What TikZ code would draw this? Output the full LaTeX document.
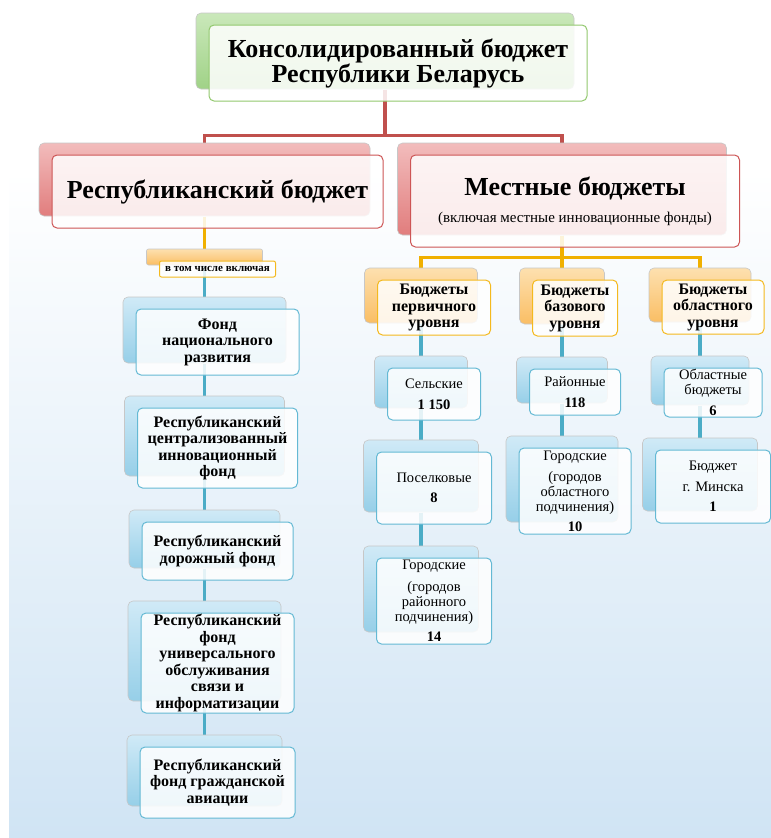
\documentclass[tikz,border=0pt]{standalone}
\usepackage{fontspec}
\setmainfont{Liberation Serif}

\definecolor{bgblauw}{RGB}{208,228,244}
\definecolor{roodlijn}{RGB}{192,80,77}
\definecolor{oranjelijn}{RGB}{240,176,0}
\definecolor{blauwlijn}{RGB}{75,172,198}
\definecolor{groenrand}{RGB}{146,200,110}
\definecolor{roodrand}{RGB}{205,85,85}
\definecolor{oranjerand}{RGB}{244,185,30}
\definecolor{blauwrand}{RGB}{100,185,212}
\definecolor{groenlicht}{RGB}{202,232,186}
\definecolor{groendonker}{RGB}{160,210,135}
\definecolor{roodlicht}{RGB}{242,188,188}
\definecolor{rooddonker}{RGB}{225,125,125}
\definecolor{oranjelicht}{RGB}{253,224,175}
\definecolor{oranjedonker}{RGB}{250,190,100}
\definecolor{blauwlicht}{RGB}{208,234,247}
\definecolor{blauwdonker}{RGB}{150,207,232}

\pgfdeclarelayer{bglayer}
\pgfdeclarelayer{lijnlayer}
\pgfsetlayers{bglayer,lijnlayer,main}

\tikzset{
  voorvlak/.style={draw=#1, line width=1pt, rounded corners=5pt, fill=white,
    fill opacity=0.85, text opacity=1, align=center, inner sep=0pt},
  achtervlak/.style 2 args={preaction={fill opacity=1, draw=black!22, line width=0.6pt,
    top color=#1, bottom color=#2, transform canvas={shift={(-13pt,12pt)}}}},
  achter/.style={shift={(-13pt,12pt)}},
  lijn/.style={draw=#1, line width=3.5pt},
  kop/.style={font=\fontsize{26}{25}\selectfont\bfseries},
  fonds/.style={font=\fontsize{16}{16.5}\selectfont\bfseries},
  niveau/.style={font=\fontsize{14.5}{15}\selectfont},
}

\begin{document}
\begin{tikzpicture}[x=1pt,y=-1pt]
\useasboundingbox (0,0) rectangle (771,838);

% Achtergrond
\begin{pgfonlayer}{bglayer}
\fill[white] (0,0) rectangle (771,838);
\shade[top color=white, bottom color=bgblauw] (9,170) rectangle (771,838);
\end{pgfonlayer}

% Bovenste blok
\node[voorvlak=groenrand, achtervlak={groenlicht}{groendonker}, kop,
  minimum width=378pt, minimum height=76pt] (titel) at (398,63)
  {Консолидированный бюджет\\Республики Беларусь};

% Republikeinse en lokale begroting
\node[voorvlak=roodrand, achtervlak={roodlicht}{rooddonker}, kop,
  minimum width=331pt, minimum height=73pt] (rb) at (217.5,191.5)
  {Республиканский бюджет};
\node[voorvlak=roodrand, achtervlak={roodlicht}{rooddonker}, kop,
  minimum width=329pt, minimum height=92pt] (mb) at (575,201)
  {Местные бюджеты\\[2pt]{\fontsize{15}{15}\selectfont\mdseries (включая местные инновационные фонды)}};

% Fondsen links
\node[voorvlak=oranjerand, achtervlak={oranjelicht}{oranjedonker}, rounded corners=2pt,
  font=\fontsize{11}{11}\selectfont\bfseries,
  minimum width=116pt, minimum height=16pt] (incl) at (217.5,269) {в том числе включая};
\node[voorvlak=blauwrand, achtervlak={blauwlicht}{blauwdonker}, fonds,
  minimum width=163pt, minimum height=66pt] (f1) at (217.5,342)
  {Фонд\\национального\\развития};
\node[voorvlak=blauwrand, achtervlak={blauwlicht}{blauwdonker}, fonds,
  minimum width=160pt, minimum height=80pt] (f2) at (217.5,448)
  {Республиканский\\централизованный\\инновационный\\фонд};
\node[voorvlak=blauwrand, achtervlak={blauwlicht}{blauwdonker}, fonds,
  minimum width=151pt, minimum height=58pt] (f3) at (217.5,551)
  {Республиканский\\дорожный фонд};
\node[voorvlak=blauwrand, achtervlak={blauwlicht}{blauwdonker}, fonds,
  minimum width=153pt, minimum height=100pt] (f4) at (217.5,663)
  {Республиканский\\фонд\\универсального\\обслуживания\\связи и\\информатизации};
\node[voorvlak=blauwrand, achtervlak={blauwlicht}{blauwdonker}, fonds,
  minimum width=155pt, minimum height=71pt] (f5) at (217.5,782.5)
  {Республиканский\\фонд гражданской\\авиации};

% Niveaus van lokale begrotingen
\node[voorvlak=oranjerand, achtervlak={oranjelicht}{oranjedonker}, fonds,
  minimum width=113pt, minimum height=55pt] (o1) at (434,307.5)
  {Бюджеты\\первичного\\уровня};
\node[voorvlak=oranjerand, achtervlak={oranjelicht}{oranjedonker}, fonds,
  minimum width=85pt, minimum height=56pt] (o2) at (575,308)
  {Бюджеты\\базового\\уровня};
\node[voorvlak=oranjerand, achtervlak={oranjelicht}{oranjedonker}, fonds,
  minimum width=102pt, minimum height=54pt] (o3) at (713,307)
  {Бюджеты\\областного\\уровня};

% Aantallen per niveau
\node[voorvlak=blauwrand, achtervlak={blauwlicht}{blauwdonker}, niveau,
  minimum width=93pt, minimum height=52pt] (c1a) at (434,394)
  {Сельские\\[6pt]\textbf{1 150}};
\node[voorvlak=blauwrand, achtervlak={blauwlicht}{blauwdonker}, niveau,
  minimum width=115pt, minimum height=72pt] (c1b) at (434,488)
  {Поселковые\\[5pt]\textbf{8}};
\node[voorvlak=blauwrand, achtervlak={blauwlicht}{blauwdonker}, niveau,
  minimum width=115pt, minimum height=86pt] (c1c) at (434,601)
  {Городские\\[7pt](городов\\районного\\подчинения)\\[5pt]\textbf{14}};
\node[voorvlak=blauwrand, achtervlak={blauwlicht}{blauwdonker}, niveau,
  minimum width=91pt, minimum height=46pt] (c2a) at (575,392)
  {Районные\\[6pt]\textbf{118}};
\node[voorvlak=blauwrand, achtervlak={blauwlicht}{blauwdonker}, niveau,
  minimum width=112pt, minimum height=86pt] (c2b) at (575,491)
  {Городские\\[6pt](городов\\областного\\подчинения)\\[5pt]\textbf{10}};
\node[voorvlak=blauwrand, achtervlak={blauwlicht}{blauwdonker}, niveau,
  minimum width=98pt, minimum height=49pt] (c3a) at (713,392.5)
  {Областные\\бюджеты\\[6pt]\textbf{6}};
\node[voorvlak=blauwrand, achtervlak={blauwlicht}{blauwdonker}, niveau,
  minimum width=115pt, minimum height=73pt] (c3b) at (713,486.5)
  {Бюджет\\[6pt]г. Минска\\[5pt]\textbf{1}};

% Verbindingslijnen
\begin{pgfonlayer}{lijnlayer}
\draw[lijn=roodlijn] ([achter]titel.south) -- ++(0,46) -| ([achter]rb.north);
\draw[lijn=roodlijn] ([achter]titel.south) -- ++(0,46) -| ([achter]mb.north);
\draw[lijn=oranjelijn] ([achter]rb.south) -- ([achter]incl.north);
\draw[lijn=oranjelijn] ([achter]mb.south) -- ++(0,22) -| ([achter]o1.north);
\draw[lijn=oranjelijn] ([achter]mb.south) -- ++(0,22) -| ([achter]o3.north);
\draw[lijn=oranjelijn] ([achter]mb.south) -- ([achter]o2.north);
\foreach \a/\b in {incl/f1, f1/f2, f2/f3, f3/f4, f4/f5, o1/c1a, c1a/c1b, c1b/c1c,
    o2/c2a, c2a/c2b, o3/c3a, c3a/c3b}
  \draw[lijn=blauwlijn] ([achter]\a.south) -- ([achter]\b.north);
\end{pgfonlayer}
\end{tikzpicture}
\end{document}
